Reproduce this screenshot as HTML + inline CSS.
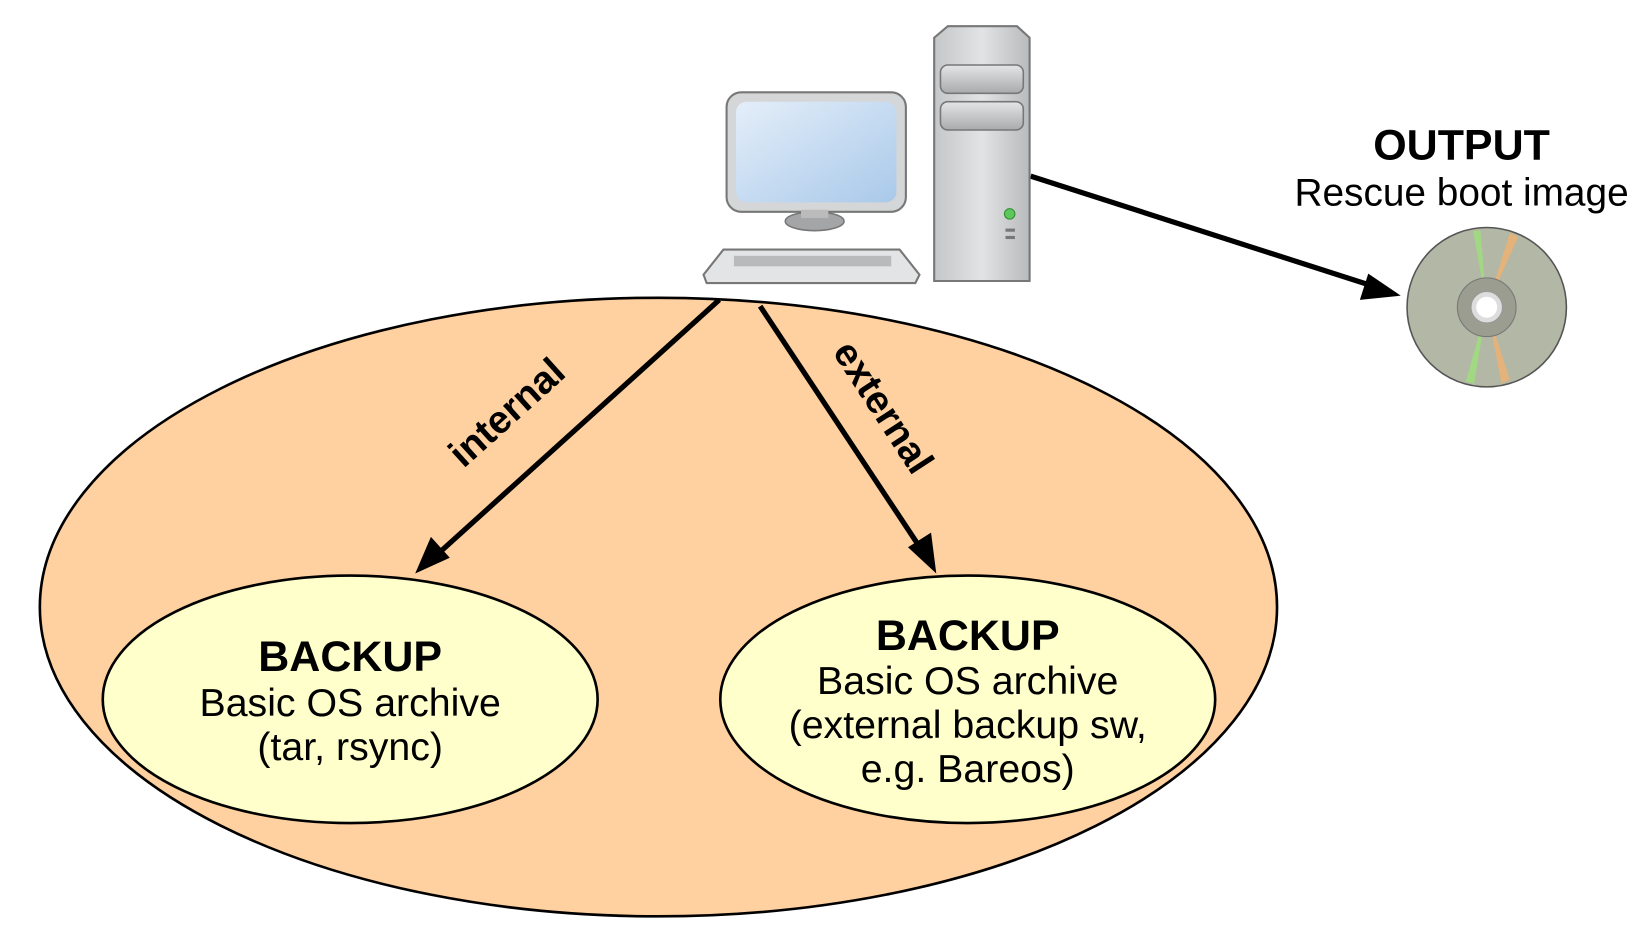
<!DOCTYPE html>
<html><head><meta charset="utf-8"><style>
html,body{margin:0;padding:0;background:#fff;}
svg{display:block;}
text{font-family:"Liberation Sans",sans-serif;}
</style></head><body>
<svg width="1644" height="930" viewBox="0 0 1568 887" xmlns="http://www.w3.org/2000/svg">
<defs>
<linearGradient id="scr" x1="0" y1="0" x2="1" y2="1"><stop offset="0" stop-color="#e4eef9"/><stop offset="1" stop-color="#a9c9ea"/></linearGradient>
<linearGradient id="tow" x1="0" y1="0" x2="1" y2="0"><stop offset="0" stop-color="#c4c6c8"/><stop offset="0.5" stop-color="#e2e3e4"/><stop offset="1" stop-color="#b8babc"/></linearGradient>
<linearGradient id="bay" x1="0" y1="0" x2="0" y2="1"><stop offset="0" stop-color="#e4e5e6"/><stop offset="1" stop-color="#a8aaac"/></linearGradient>
</defs>
<ellipse cx="628" cy="579" rx="590" ry="295" fill="#ffd0a0" stroke="#000" stroke-width="2.5"/>
<ellipse cx="334" cy="667" rx="236" ry="118" fill="#ffffcc" stroke="#000" stroke-width="2.5"/>
<ellipse cx="923" cy="667" rx="236" ry="118" fill="#ffffcc" stroke="#000" stroke-width="2.5"/>

<line x1="686" y1="286" x2="418" y2="528" stroke="#000" stroke-width="5"/>
<polygon points="396,547 411,512 429,532" fill="#000"/>
<line x1="725" y1="292" x2="880" y2="526" stroke="#000" stroke-width="5"/>
<polygon points="893,547 866,522 888,508" fill="#000"/>
<line x1="983" y1="168" x2="1310" y2="273" stroke="#000" stroke-width="5"/>
<polygon points="1336,282 1297,286 1305,261" fill="#000"/>

<text x="483" y="406" font-size="37" font-weight="bold" text-anchor="middle" transform="rotate(-42 483 393)">internal</text>
<text x="843" y="401" font-size="37" font-weight="bold" text-anchor="middle" transform="rotate(57 843 388)">external</text>

<text x="334" y="640" font-size="41" font-weight="bold" text-anchor="middle">BACKUP</text>
<text x="334" y="683" font-size="37.5" text-anchor="middle">Basic OS archive</text>
<text x="334" y="725" font-size="37.5" text-anchor="middle">(tar, rsync)</text>
<text x="923" y="620" font-size="41" font-weight="bold" text-anchor="middle">BACKUP</text>
<text x="923" y="662" font-size="37.5" text-anchor="middle">Basic OS archive</text>
<text x="923" y="704" font-size="37.5" text-anchor="middle">(external backup sw,</text>
<text x="923" y="746" font-size="37.5" text-anchor="middle">e.g. Bareos)</text>

<text x="1394" y="152" font-size="41" font-weight="bold" text-anchor="middle">OUTPUT</text>
<text x="1394" y="196" font-size="37" text-anchor="middle">Rescue boot image</text>

<circle cx="1418" cy="293" r="76" fill="#b2b7a6" stroke="#555" stroke-width="1.5"/>
<polygon points="1405,220 1412,220 1418,293" fill="#9ee07a" opacity="0.8"/>
<polygon points="1440,222 1448,226 1418,293" fill="#f0b070" opacity="0.8"/>
<polygon points="1398,364 1406,366 1418,293" fill="#9ee07a" opacity="0.8"/>
<polygon points="1432,366 1440,362 1418,293" fill="#f0b070" opacity="0.8"/>
<circle cx="1418" cy="293" r="28" fill="#9a9d90" stroke="#777" stroke-width="1"/>
<circle cx="1418" cy="293" r="15" fill="#ddd" stroke="#999"/>
<circle cx="1418" cy="293" r="10" fill="#fff"/>

<rect x="693" y="88" width="171" height="114" rx="14" fill="#d5d6d7" stroke="#777" stroke-width="2"/>
<rect x="702" y="97" width="153" height="96" rx="10" fill="url(#scr)"/>
<ellipse cx="777" cy="211" rx="28" ry="9" fill="#a3a5a7" stroke="#777" stroke-width="1.5"/>
<rect x="764" y="200" width="26" height="8" fill="#bbb"/>
<path d="M690,238 L858,238 L877,262 L873,270 L674,270 L671,262 Z" fill="#e3e4e5" stroke="#777" stroke-width="2"/>
<rect x="700" y="244" width="150" height="10" fill="#b8babc"/>
<path d="M904,25 L970,25 L982,36 L982,268 L891,268 L891,36 Z" fill="url(#tow)" stroke="#777" stroke-width="2"/>
<rect x="897" y="62" width="79" height="27" rx="7" fill="url(#bay)" stroke="#777" stroke-width="1.5"/>
<rect x="897" y="97" width="79" height="27" rx="7" fill="url(#bay)" stroke="#777" stroke-width="1.5"/>
<circle cx="963" cy="204" r="5" fill="#5cc85c" stroke="#2e8e2e"/>
<rect x="959" y="218" width="9" height="3" fill="#777"/>
<rect x="959" y="225" width="9" height="3" fill="#777"/>
</svg>
</body></html>
